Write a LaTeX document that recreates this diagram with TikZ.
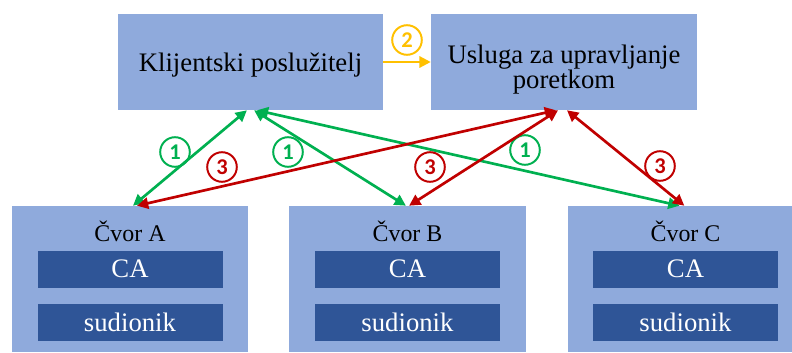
\documentclass[tikz,border=0pt]{standalone}
\usepackage{fontspec}
\usepackage{xcolor}
\usepackage{tikz}
\usetikzlibrary{arrows.meta}
\setmainfont{Liberation Serif}
\newfontfamily\numfont{Carlito}
\definecolor{boxblue}{HTML}{8FAADC}
\definecolor{darkblue}{HTML}{2F5597}
\definecolor{arrgreen}{HTML}{00B050}
\definecolor{arrred}{HTML}{C00000}
\definecolor{arryellow}{HTML}{FFC000}

\begin{document}
\begin{tikzpicture}[>={Triangle[length=8pt, width=8pt]},
    bigbox/.style={rectangle, fill=boxblue, minimum height=2.4cm},
    bigtext/.style={inner sep=0pt, text depth=0pt, align=center, font=\fontsize{19}{17}\selectfont},
    nodebox/.style={rectangle, fill=boxblue, minimum width=5.9cm, minimum height=3.65cm},
    nodetitle/.style={font=\fontsize{17}{20}\selectfont},
    inbox/.style={rectangle, fill=darkblue, text=white, minimum width=4.625cm, minimum height=0.925cm, font=\fontsize{19}{21}\selectfont},
    numcirc/.style={circle, draw, line width=1.4pt, minimum size=0.74cm, inner sep=0pt, font=\numfont\bfseries\fontsize{16}{18}\selectfont},
    link/.style={<->, line width=1.9pt}]
    \useasboundingbox (0, 0) rectangle (19.8, 8.8);
    \clip (0, 0) rectangle (19.8, 8.8);

    % top row
    \node [bigbox, minimum width=6.625cm] (klijent) at (6.2625, 7.25) {};
    \node [bigbox, minimum width=6.65cm] (usluga) at (14.1, 7.25) {};
    \node [bigtext] (klijenttxt) at (klijent.center) {Klijentski poslužitelj};
    \node [bigtext] (uslugatxt) at ([yshift=-0.12cm]usluga.center) {Usluga za upravljanje\\poretkom};

    % nodes
    \node [nodebox] (cvorA) at (3.25, 1.825) {};
    \node [nodebox, minimum width=5.925cm] (cvorB) at (10.1875, 1.825) {};
    \node [nodebox] (cvorC) at (17.1375, 1.825) {};
    \node [nodetitle] (titleA) at (3.25, 3.01) {Čvor A};
    \node [nodetitle] (titleB) at (10.1875, 3.01) {Čvor B};
    \node [nodetitle] (titleC) at (17.1375, 3.01) {Čvor C};
    \node [inbox] (caA) at (3.25, 2.075) {CA};
    \node [inbox] (caB) at (10.1875, 2.075) {CA};
    \node [inbox] (caC) at (17.1375, 2.075) {CA};
    \node [inbox] (sudA) at (3.25, 0.75) {sudionik};
    \node [inbox] (sudB) at (10.1875, 0.75) {sudionik};
    \node [inbox] (sudC) at (17.1375, 0.75) {sudionik};

    % step 2
    \draw [->, line width=1.6pt, arryellow] (klijent) -- (usluga);
    \node [numcirc, arryellow] (s2) at (10.175, 7.8) {2};

    % step 1
    \draw [link, arrgreen] ([xshift=-0.09cm]klijent.south) -- ([xshift=0.075cm]cvorA.north);
    \draw [link, arrgreen] ([xshift=0.09cm]klijent.south) -- ([xshift=-0.04cm]cvorB.north);
    \draw [link, arrgreen] ([xshift=0.16cm]klijent.south) -- ([xshift=-0.15cm]cvorC.north);
    \node [numcirc, arrgreen] (s1a) at (4.375, 5.0) {1};
    \node [numcirc, arrgreen] (s1b) at (7.2, 5.0) {1};
    \node [numcirc, arrgreen] (s1c) at (13.125, 5.05) {1};

    % step 3
    \draw [link, arrred] ([xshift=-0.2cm]usluga.south) -- ([xshift=0.175cm]cvorA.north);
    \draw [link, arrred] ([xshift=-0.15cm]usluga.south) -- ([xshift=0.04cm]cvorB.north);
    \draw [link, arrred] ([xshift=0.075cm]usluga.south) -- ([xshift=-0.03cm]cvorC.north);
    \node [numcirc, arrred] (s3a) at (5.55, 4.625) {3};
    \node [numcirc, arrred] (s3b) at (10.75, 4.625) {3};
    \node [numcirc, arrred] (s3c) at (16.5, 4.65) {3};
\end{tikzpicture}
\end{document}
